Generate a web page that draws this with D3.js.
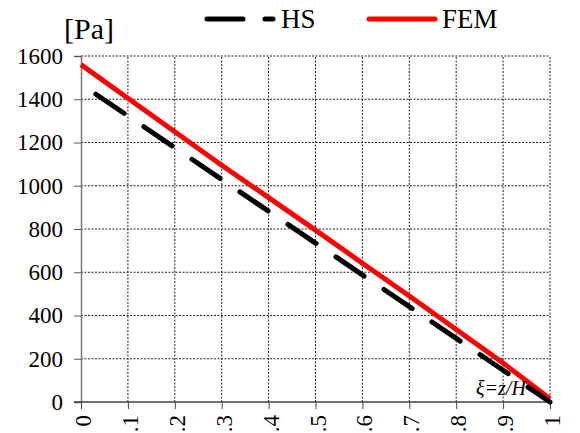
<!DOCTYPE html>
<html>
<head>
<meta charset="utf-8">
<script src="https://cdn.jsdelivr.net/npm/d3@7/dist/d3.min.js"></script>
<style>
  html, body { margin: 0; padding: 0; background: #fff; }
</style>
</head>
<body>
<svg id="chart" width="580" height="433" font-family="Liberation Serif"></svg>
<script>
// Pressure profile along normalised height xi = z/H
const xi       = [0, 0.1, 0.2, 0.3, 0.4, 0.5, 0.6, 0.7, 0.8, 0.9, 1.0];
const hsValues = [1470, 1323, 1176, 1029, 882, 735, 588, 441, 294, 147, 0];
const femValues = [1560, 1405, 1250, 1095, 945, 795, 642, 490, 335, 180, 15];
const yTicks = [0, 200, 400, 600, 800, 1000, 1200, 1400, 1600];
const xTicks = [0, 0.1, 0.2, 0.3, 0.4, 0.5, 0.6, 0.7, 0.8, 0.9, 1.0];
const xTickLabels = ["0", ".1", ".2", ".3", ".4", ".5", ".6", ".7", ".8", ".9", "1"];
const seriesNames = ["HS", "FEM"];
const seriesColors = ["#000000", "#ff0000"];

const FONT = "Liberation Serif";
const svg = d3.select("#chart");
const margin = { left: 81, right: 30, top: 56, bottom: 31 };
const W = 580, H = 433;

const x = d3.scaleLinear().domain([0, 1]).range([margin.left, W - margin.right]);
const y = d3.scaleLinear().domain([0, 1600]).range([H - margin.bottom, margin.top]);

// dotted grid
const grid = svg.append("g");
grid.selectAll("line.h").data(yTicks.filter(d => d > 0)).join("line")
  .attr("x1", x(0)).attr("x2", x(1))
  .attr("y1", d => y(d)).attr("y2", d => y(d))
  .attr("stroke", "#222").attr("stroke-width", 1).attr("stroke-dasharray", "2,1.5");
grid.selectAll("line.v").data(xTicks.filter(d => d > 0)).join("line")
  .attr("y1", y(0)).attr("y2", y(1600))
  .attr("x1", d => x(d)).attr("x2", d => x(d))
  .attr("stroke", "#222").attr("stroke-width", 1).attr("stroke-dasharray", "2,1.5");

// y axis
const yAxis = svg.append("g")
  .attr("transform", `translate(${x(0)},0)`)
  .call(d3.axisLeft(y).tickValues(yTicks).tickSize(7).tickPadding(11).tickFormat(d3.format("d")))
  .attr("font-family", FONT).attr("font-size", 23);
yAxis.select(".domain").attr("stroke", "#777").attr("stroke-width", 1.5);
yAxis.selectAll(".tick line").attr("stroke", "#555");
yAxis.selectAll("text").attr("fill", "#000");

// x axis
const xAxis = svg.append("g")
  .attr("transform", `translate(0,${y(0)})`)
  .call(d3.axisBottom(x).tickValues(xTicks).tickSize(7).tickFormat((d, i) => xTickLabels[i]))
  .attr("font-family", FONT).attr("font-size", 23);
xAxis.select(".domain").attr("stroke", "#444").attr("stroke-width", 1.5)
  .attr("d", `M${x(0) - 7},0H${x(1)}`);
xAxis.selectAll(".tick line").attr("stroke", "#444");
xAxis.selectAll("text")
  .attr("fill", "#000")
  .attr("text-anchor", "end")
  .attr("transform", "rotate(-90)")
  .attr("x", -13).attr("y", 1.5).attr("dy", "0.35em");

// series lines
const line = d3.line().x((d, i) => x(xi[i])).y(d => y(d));
svg.append("path").datum(femValues)
  .attr("d", line).attr("fill", "none")
  .attr("stroke", seriesColors[1]).attr("stroke-width", 5);
svg.append("path").datum(hsValues)
  .attr("d", line).attr("fill", "none")
  .attr("stroke", seriesColors[0]).attr("stroke-width", 5)
  .attr("stroke-linecap", "round")
  .attr("stroke-dasharray", "34,24").attr("stroke-dashoffset", 40);

// axis caption
svg.append("text").attr("x", 476).attr("y", 395)
  .attr("font-family", FONT).attr("font-size", 20).attr("font-style", "italic").text("ξ=z/H");

// unit label
svg.append("text").attr("x", 64).attr("y", 39)
  .attr("font-family", FONT).attr("font-size", 30).text("[Pa]");

// legend
const lg = svg.append("g").attr("font-family", FONT).attr("font-size", 27);
lg.append("path").attr("d", "M207,19H243M265,19H273")
  .attr("stroke", seriesColors[0]).attr("stroke-width", 5).attr("stroke-linecap", "round");
lg.append("text").attr("x", 281).attr("y", 28).text(seriesNames[0]);
lg.append("path").attr("d", "M369,19H435")
  .attr("stroke", seriesColors[1]).attr("stroke-width", 5).attr("stroke-linecap", "round");
lg.append("text").attr("x", 442).attr("y", 28).text(seriesNames[1]);
</script>
</body>
</html>
